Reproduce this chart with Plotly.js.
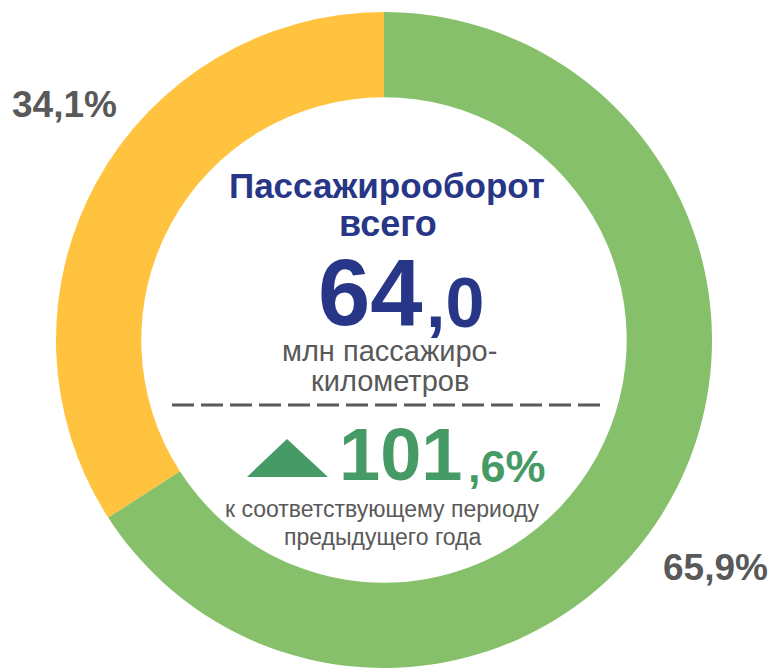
<!DOCTYPE html>
<html>
<head>
<meta charset="utf-8">
<script src="https://cdn.plot.ly/plotly-3.0.1.min.js"></script>
<style>
  html, body { margin: 0; padding: 0; background: #fff; overflow: hidden; }
  #donut { width: 773px; height: 668px; }
</style>
</head>
<body>
<div id="donut"></div>
<script>
// shares of passenger turnover, %
var labels = ['Зелёный', 'Жёлтый'];
var values = [65.9, 34.1];
var colors = ['#87C06B', '#FFC340'];

var totalInt = '64', totalDec = ',0';
var growthInt = '101', growthDec = ',6%';

var W = 773, H = 668;
function px(x) { return x / W; }
function py(y) { return 1 - y / H; }
function fmt(v) { return v.toFixed(1).replace('.', ',') + '%'; }

var FONT = 'Liberation Sans, Arial, sans-serif';
var navy = '#283687', green = '#469A65', grey = '#595959';

var trace = {
  type: 'pie',
  labels: labels,
  values: values,
  hole: 0.74,
  sort: false,
  direction: 'clockwise',
  rotation: 0,
  textinfo: 'none',
  hoverinfo: 'none',
  marker: { colors: colors, line: { width: 0 } },
  domain: { x: [px(56), px(712)], y: [0, py(12)] },
  showlegend: false
};

function ann(text, x, y, size, color, bold, anchor) {
  return {
    xref: 'paper', yref: 'paper',
    x: px(x), y: py(y),
    xanchor: anchor || 'center', yanchor: 'middle',
    text: bold ? '<b>' + text + '</b>' : text,
    showarrow: false,
    font: { family: FONT, size: size, color: color }
  };
}

var annotations = [
  ann(fmt(values[1]), 64, 104, 37, grey, true),
  ann(fmt(values[0]), 715, 567, 37, grey, true),
  ann('Пассажирооборот', 387, 186, 35, navy, true),
  ann('всего', 388, 223, 36, navy, true),
  ann(totalInt, 425, 292, 94, navy, true, 'right'),
  ann(totalDec, 424, 303, 70, navy, true, 'left'),
  ann('млн пассажиро-', 390, 351, 29, grey, false),
  ann('километров', 390, 381, 29, grey, false),
  ann(growthInt, 464, 454, 74, green, true, 'right'),
  ann(growthDec, 466, 466, 45, green, true, 'left'),
  ann('к соответствующему периоду', 382, 509, 23, grey, false),
  ann('предыдущего года', 383, 537, 23, grey, false)
];

var shapes = [
  {
    type: 'line', xref: 'paper', yref: 'paper',
    x0: px(172), x1: px(602), y0: py(405), y1: py(405),
    line: { color: grey, width: 3, dash: '22px,7px' }
  },
  {
    type: 'path', xref: 'paper', yref: 'paper',
    path: 'M ' + px(247) + ' ' + py(477) + ' L ' + px(328) + ' ' + py(477) +
          ' L ' + px(287) + ' ' + py(439) + ' Z',
    fillcolor: green, line: { width: 0 }
  }
];

var layout = {
  width: W, height: H,
  margin: { l: 0, r: 0, t: 0, b: 0 },
  paper_bgcolor: '#fff',
  plot_bgcolor: '#fff',
  annotations: annotations,
  shapes: shapes
};

Plotly.newPlot('donut', [trace], layout, { displayModeBar: false, staticPlot: true });
</script>
</body>
</html>
